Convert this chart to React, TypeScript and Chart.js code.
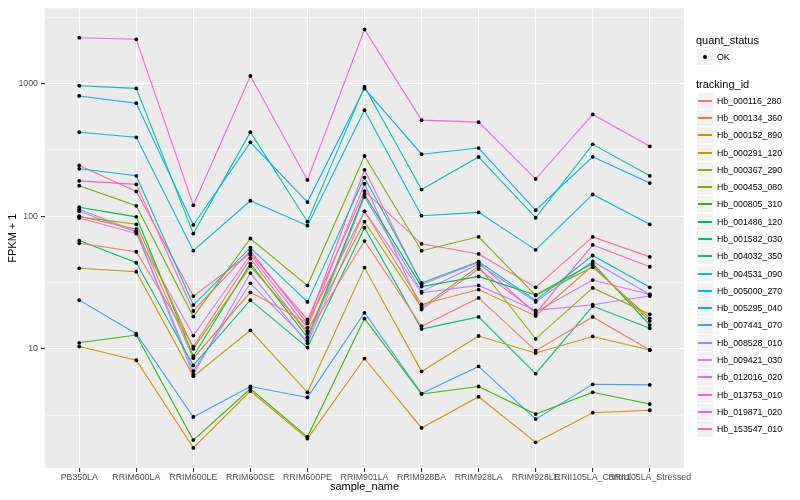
import React, { useEffect, useRef } from 'react';
import { Chart, registerables } from 'chart.js';

Chart.register(...registerables);

const FONT = '"Liberation Sans", Arial, Helvetica, sans-serif';

const categories = [
  'PB350LA', 'RRIM600LA', 'RRIM600LE', 'RRIM600SE', 'RRIM600PE', 'RRIM901LA',
  'RRIM928BA', 'RRIM928LA', 'RRIM928LE', 'RRII105LA_Control', 'RRII105LA_Stressed',
];

const trackingIds = [
  'Hb_000116_280', 'Hb_000134_360', 'Hb_000152_890', 'Hb_000291_120', 'Hb_000367_290',
  'Hb_000453_080', 'Hb_000805_310', 'Hb_001486_120', 'Hb_001582_030', 'Hb_004032_350',
  'Hb_004531_090', 'Hb_005000_270', 'Hb_005295_040', 'Hb_007441_070', 'Hb_008528_010',
  'Hb_009421_030', 'Hb_012016_020', 'Hb_013753_010', 'Hb_019871_020', 'Hb_153547_010',
];

const seriesColors = [
  '#F8766D', '#EA8331', '#D89000', '#C09B00', '#A3A500', '#7CAE00', '#39B600', '#00BB4E',
  '#00BF7D', '#00C1A3', '#00BFC4', '#00BAE0', '#00B0F6', '#35A2FF', '#9590FF', '#C77CFF',
  '#E76BF3', '#FA62DB', '#FF62BC', '#FF6C91',
];

// FPKM + 1 values, in category order
const hb000116_280 = [62.5, 54, 10.4, 48, 13, 65, 14.8, 24.2, 9.7, 17.4, 9.8];
const hb000134_360 = [100, 80, 8.5, 26.7, 15.7, 109, 21.6, 28, 17.7, 42.5, 16.2];
const hb000152_890 = [10.4, 8.2, 1.79, 4.8, 2.1, 8.45, 2.53, 4.35, 1.97, 3.3, 3.44];
const hb000291_120 = [40.5, 38.2, 6.2, 13.8, 4.7, 41, 6.76, 12.5, 9.3, 12.4, 9.8];
const hb000367_290 = [99, 87, 10.0, 41.9, 13.6, 91, 20.5, 42, 11.9, 28.8, 18.2];
const hb000453_080 = [170, 120, 17.5, 68, 30, 285, 55, 70, 25.3, 41.3, 17];
const hb000805_310 = [11.1, 12.7, 2.05, 5.0, 2.17, 16.9, 4.57, 5.2, 3.22, 4.7, 3.83];
const hb001486_120 = [117, 99, 8.8, 44, 12.2, 146, 29.5, 35.2, 25.5, 44, 15.1];
const hb001582_030 = [65.6, 44.6, 7.5, 23.3, 10.2, 82, 14.1, 17.4, 6.5, 21, 14.3];
const hb004032_350 = [966, 922, 74, 431, 91, 950, 159, 280, 97.5, 349, 202];
const hb004531_090 = [228, 202, 21.4, 58, 22.6, 196, 31.4, 45.6, 23.2, 50.6, 29.1];
const hb005000_270 = [431, 394, 55, 131, 85, 631, 101, 107, 55.8, 146, 87];
const hb005295_040 = [809, 713, 86, 361, 128, 919, 294, 327, 111, 281, 178];
const hb007441_070 = [23.3, 13.0, 3.06, 5.2, 4.3, 18.7, 4.6, 7.37, 2.95, 5.4, 5.35];
const hb008528_010 = [113, 77, 6.8, 31.2, 11.5, 140, 27, 43.5, 22.6, 45.6, 25.7];
const hb009421_030 = [109, 76, 6.4, 37.3, 11, 109, 26.5, 30.1, 19.5, 21.5, 25];
const hb012016_020 = [97, 74, 12.6, 51, 14.4, 176, 19.8, 40, 19, 33, 25.7];
const hb013753_010 = [2223, 2162, 121, 1143, 188, 2565, 531, 513, 191, 586, 337];
const hb019871_020 = [185, 174, 19.3, 55, 15.5, 224, 30.5, 45, 18.5, 60.8, 41.6];
const hb153547_010 = [242, 154, 25, 52.6, 16.6, 155, 62, 52, 29.1, 69.8, 49.4];

const seriesValues = [
  hb000116_280, hb000134_360, hb000152_890, hb000291_120, hb000367_290,
  hb000453_080, hb000805_310, hb001486_120, hb001582_030, hb004032_350,
  hb004531_090, hb005000_270, hb005295_040, hb007441_070, hb008528_010,
  hb009421_030, hb012016_020, hb013753_010, hb019871_020, hb153547_010,
];

const yMajorTicks = [10, 100, 1000];
const yTickLabels = ['10', '100', '1000'];
const yMinorTicks = [3.1623, 31.623, 316.23, 3162.3];

const panelBackground = {
  id: 'panelBackground',
  beforeDraw(chart: any) {
    const { ctx, chartArea: a } = chart;
    ctx.save();
    ctx.fillStyle = '#EBEBEB';
    ctx.fillRect(a.left, a.top, a.right - a.left, a.bottom - a.top);
    ctx.restore();
  },
};

const isMajor = (v: number) => yMajorTicks.includes(v);

export default function App() {
  const canvasRef = useRef<HTMLCanvasElement | null>(null);

  useEffect(() => {
    if (!canvasRef.current) return;
    const lineSets = seriesValues.map((vals, i) => ({
      type: 'line' as const,
      label: trackingIds[i],
      data: vals.map((v, j) => ({ x: j, y: v })),
      borderColor: seriesColors[i],
      backgroundColor: seriesColors[i],
      borderWidth: 1.07,
      pointRadius: 0,
      fill: false,
      tension: 0,
      order: 1,
    }));
    const pointSets = seriesValues.map((vals, i) => ({
      type: 'line' as const,
      label: trackingIds[i] + ' OK',
      data: vals.map((v, j) => ({ x: j, y: v })),
      showLine: false,
      pointRadius: 1.9,
      pointBorderWidth: 0,
      pointBackgroundColor: '#000000',
      pointBorderColor: '#000000',
      order: 0,
    }));

    const chart = new Chart(canvasRef.current, {
      type: 'line',
      data: { datasets: [...lineSets, ...pointSets] as any },
      plugins: [panelBackground],
      options: {
        animation: false,
        responsive: false,
        layout: { padding: { top: 5, right: 116, left: 0, bottom: 0 } },
        plugins: { legend: { display: false }, tooltip: { enabled: false } },
        scales: {
          x: {
            type: 'linear',
            min: -0.6,
            max: 10.6,
            afterBuildTicks: (s: any) => {
              s.ticks = categories.map((_, i) => ({ value: i }));
            },
            afterFit: (s: any) => {
              s.height = 32;
            },
            ticks: {
              callback: (v: any) => categories[v as number] ?? '',
              autoSkip: false,
              maxRotation: 0,
              minRotation: 0,
              padding: 0,
              color: '#4D4D4D',
              font: { family: FONT, size: 8.8 },
            },
            grid: {
              color: '#FFFFFF',
              lineWidth: 1.1,
              tickColor: '#333333',
              tickWidth: 1.1,
              tickLength: 4,
            },
            border: { display: false },
            title: {
              display: true,
              text: 'sample_name',
              color: '#000000',
              font: { family: FONT, size: 11 },
              padding: { top: 0, bottom: 6.4 },
            },
          },
          y: {
            type: 'logarithmic',
            min: 1.262,
            max: 3707,
            afterBuildTicks: (s: any) => {
              s.ticks = [...yMinorTicks, ...yMajorTicks]
                .sort((a, b) => a - b)
                .map((v) => ({ value: v }));
            },
            afterFit: (s: any) => {
              s.width = 45;
            },
            ticks: {
              callback: (v: any) => {
                const k = yMajorTicks.indexOf(v as number);
                return k >= 0 ? yTickLabels[k] : '';
              },
              autoSkip: false,
              padding: 3,
              color: '#4D4D4D',
              font: { family: FONT, size: 8.8 },
            },
            grid: {
              color: '#FFFFFF',
              lineWidth: (c: any) => (isMajor(c.tick?.value) ? 1.1 : 0.55),
              tickColor: (c: any) => (isMajor(c.tick?.value) ? '#333333' : 'rgba(0,0,0,0)'),
              tickWidth: 1.1,
              tickLength: 4,
            },
            border: { display: false },
            title: {
              display: true,
              text: 'FPKM + 1',
              color: '#000000',
              font: { family: FONT, size: 11 },
              padding: { top: 6, bottom: 0 },
            },
          },
        },
      } as any,
    });
    return () => chart.destroy();
  }, []);

  const pitch = 17.28;
  const firstCenter = 100.8;

  return (
    <div style={{ position: 'relative', width: 800, height: 500, fontFamily: FONT, background: '#FFFFFF' }}>
      <style>{'body{margin:0}'}</style>
      <canvas ref={canvasRef} width={800} height={500} style={{ display: 'block' }} />
      <div style={{ position: 'absolute', left: 696, top: 33.5, height: 13, lineHeight: '13px', fontSize: 11, color: '#000' }}>
        quant_status
      </div>
      <div style={{ position: 'absolute', left: 697, top: 49, width: 16, height: 16, background: '#F2F2F2' }}>
        <div style={{ position: 'absolute', left: 6, top: 6, width: 4, height: 4, borderRadius: '50%', background: '#000' }} />
      </div>
      <div style={{ position: 'absolute', left: 717, top: 51, height: 12, lineHeight: '12px', fontSize: 8.8, color: '#000' }}>
        OK
      </div>
      <div style={{ position: 'absolute', left: 696, top: 77.5, height: 13, lineHeight: '13px', fontSize: 11, color: '#000' }}>
        tracking_id
      </div>
      {trackingIds.map((id, i) => {
        const c = firstCenter + i * pitch;
        const boxTop = Math.round(c - 8);
        return (
          <React.Fragment key={id}>
            <div style={{ position: 'absolute', left: 697, top: boxTop, width: 16, height: 16, background: '#F2F2F2' }}>
              <div style={{ position: 'absolute', left: 1, top: 7, width: 14, height: 1.5, background: seriesColors[i] }} />
            </div>
            <div style={{ position: 'absolute', left: 717, top: boxTop + 2, height: 12, lineHeight: '12px', fontSize: 8.8, color: '#000', whiteSpace: 'nowrap' }}>
              {id}
            </div>
          </React.Fragment>
        );
      })}
    </div>
  );
}
